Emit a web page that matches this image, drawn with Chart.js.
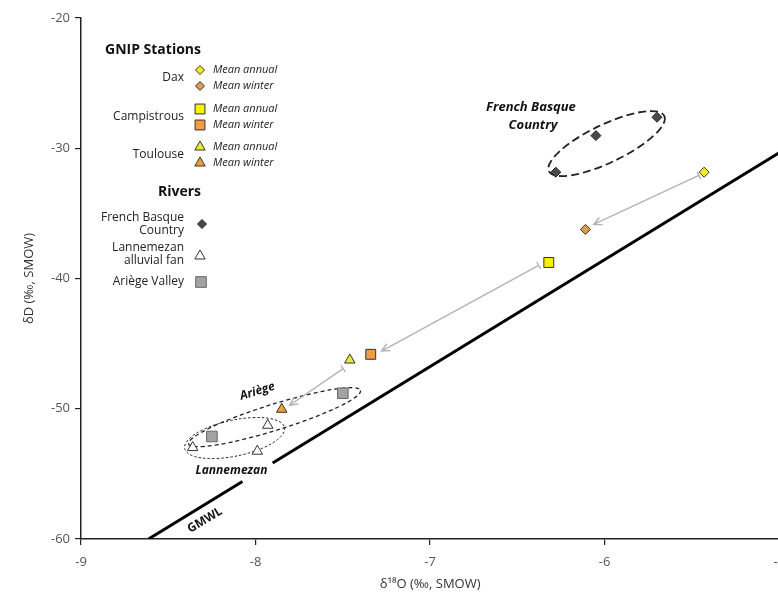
<!DOCTYPE html>
<html>
<head>
<meta charset="utf-8">
<script src="https://cdn.jsdelivr.net/npm/chart.js@4.4.0/dist/chart.umd.min.js"></script>
<style>
  html, body { margin: 0; padding: 0; background: #fff; overflow: hidden; }
  #wrap { position: relative; width: 794px; height: 597px; }
</style>
</head>
<body>
<div id="wrap"><canvas id="chart" width="794" height="597"></canvas></div>
<script>
// values (d18O, dD in permil SMOW)
const stations = ["Dax", "Campistrous", "Toulouse"];
const annualO = [-5.43, -6.32, -7.46];
const annualD = [-31.84, -38.77, -46.26];
const winterO = [-6.11, -7.34, -7.85];
const winterD = [-36.23, -45.82, -50.04];

const basqueO = [-6.28, -6.05, -5.70];
const basqueD = [-31.84, -29.03, -27.62];
const lannemezanO = [-7.93, -7.99, -8.36];
const lannemezanD = [-51.27, -53.26, -52.98];
const ariegeO = [-7.50, -8.25];
const ariegeD = [-48.81, -52.13];

// GMWL, with a break behind the "Lannemezan" label
const gmwlO = [-8.613, -8.075, -8.0, -7.902, -5.0];
const gmwlD = [-60, -55.59, null, -54.17, -30.35];

// arrows annual -> winter
const arrowFromO = [-5.46, -6.378, -7.498];
const arrowFromD = [-32.09, -39.0, -46.92];
const arrowToO = [-6.063, -7.278, -7.805];
const arrowToD = [-35.85, -45.57, -49.73];

// grouping ellipses (centres)
const groupNames = ["Basque", "Ariège", "Lannemezan"];
const groupO = [-5.989, -7.891, -8.12];
const groupD = [-29.64, -50.65, -52.25];

const xTicks = [-9, -8, -7, -6, -5];
const yTicks = [-60, -50, -40, -30, -20];

const FONT = "'Open Sans', 'Noto Sans', sans-serif";

function pts(xs, ys) {
  return xs.map((x, i) => ({ x: x, y: ys[i] }));
}

function marker(ctx, style, x, y, r, fill, stroke) {
  ctx.save();
  ctx.fillStyle = fill;
  ctx.strokeStyle = stroke;
  ctx.lineWidth = 1;
  ctx.beginPath();
  if (style === "rectRot") {
    ctx.moveTo(x, y - r); ctx.lineTo(x + r, y); ctx.lineTo(x, y + r); ctx.lineTo(x - r, y);
  } else if (style === "rect") {
    const s = r * Math.SQRT1_2;
    ctx.rect(x - s, y - s, 2 * s, 2 * s);
  } else {
    ctx.moveTo(x, y - r);
    ctx.lineTo(x + r * 0.866, y + r * 0.5);
    ctx.lineTo(x - r * 0.866, y + r * 0.5);
  }
  ctx.closePath();
  ctx.fill();
  ctx.stroke();
  ctx.restore();
}

const overlay = {
  id: "overlay",
  beforeDatasetsDraw(chart) {
    const ctx = chart.ctx, xs = chart.scales.x, ys = chart.scales.y;
    // ellipses
    const shape = [
      { a: 64, b: 19, rot: -25.6, w: 1.8, dash: [8, 4] },
      { a: 90, b: 13, rot: -17.3, w: 1.3, dash: [4, 3] },
      { a: 51, b: 18, rot: -12, w: 1, dash: [2.5, 2] }
    ];
    ctx.save();
    ctx.strokeStyle = "#222";
    groupNames.forEach((n, i) => {
      const cx = xs.getPixelForValue(groupO[i]);
      const cy = ys.getPixelForValue(groupD[i]);
      const s = shape[i];
      ctx.lineWidth = s.w;
      ctx.setLineDash(s.dash);
      ctx.beginPath();
      ctx.ellipse(cx, cy, s.a, s.b, s.rot * Math.PI / 180, 0, Math.PI * 2);
      ctx.stroke();
    });
    ctx.setLineDash([]);
    // arrows
    ctx.strokeStyle = "#b3b3b3";
    ctx.lineWidth = 1.4;
    arrowFromO.forEach((v, i) => {
      const x1 = xs.getPixelForValue(v), y1 = ys.getPixelForValue(arrowFromD[i]);
      const x2 = xs.getPixelForValue(arrowToO[i]), y2 = ys.getPixelForValue(arrowToD[i]);
      const ang = Math.atan2(y2 - y1, x2 - x1);
      ctx.beginPath();
      ctx.moveTo(x1, y1); ctx.lineTo(x2, y2);
      // tail bar
      const px = Math.cos(ang + Math.PI / 2) * 4, py = Math.sin(ang + Math.PI / 2) * 4;
      ctx.moveTo(x1 - px, y1 - py); ctx.lineTo(x1 + px, y1 + py);
      // head
      ctx.moveTo(x2 - Math.cos(ang - 0.45) * 9, y2 - Math.sin(ang - 0.45) * 9);
      ctx.lineTo(x2, y2);
      ctx.lineTo(x2 - Math.cos(ang + 0.45) * 9, y2 - Math.sin(ang + 0.45) * 9);
      ctx.stroke();
    });
    ctx.restore();
  },
  afterDatasetsDraw(chart) {
    const ctx = chart.ctx, xs = chart.scales.x, ys = chart.scales.y;
    ctx.save();
    ctx.fillStyle = "#111";
    ctx.textAlign = "center";
    ctx.textBaseline = "middle";
    ctx.font = "italic bold 13px " + FONT;
    const bx = xs.getPixelForValue(-6.422), by = ys.getPixelForValue(-26.88);
    ctx.fillText("French Basque", bx, by);
    ctx.fillText("Country", bx + 2, by + 18);

    ctx.font = "italic bold 12px " + FONT;
    ctx.fillText("Lannemezan", xs.getPixelForValue(-8.138), ys.getPixelForValue(-54.72));

    ctx.save();
    ctx.translate(xs.getPixelForValue(-7.989), ys.getPixelForValue(-48.66));
    ctx.rotate(-17 * Math.PI / 180);
    ctx.fillText("Ariège", 0, 0);
    ctx.restore();

    ctx.save();
    ctx.font = "bold 12px " + FONT;
    ctx.translate(xs.getPixelForValue(-8.29), ys.getPixelForValue(-58.55));
    ctx.rotate(-31 * Math.PI / 180);
    ctx.fillText("GMWL", 0, 0);
    ctx.restore();
    ctx.restore();
  },
  afterDraw(chart) {
    const ctx = chart.ctx;
    ctx.save();
    ctx.fillStyle = "#111";
    ctx.textBaseline = "middle";
    ctx.textAlign = "right";
    ctx.font = "bold 14px " + FONT;
    ctx.fillText("GNIP Stations", 201, 50);
    ctx.fillText("Rivers", 201, 192);

    const rowY = [70, 109, 147];
    const shapes = ["rectRot", "rect", "triangle"];
    const rads = [4.5, 7, 6];
    const annFill = ["#f4f01e", "#f7f200", "#e3ee3a"];
    const winFill = ["#e59a52", "#f29b45", "#f0a03c"];
    stations.forEach((s, i) => {
      ctx.textAlign = "right";
      ctx.font = "12px " + FONT;
      ctx.fillStyle = "#222";
      ctx.fillText(s, 184, rowY[i] + 8);
      marker(ctx, shapes[i], 200, rowY[i], rads[i], annFill[i], "#333");
      marker(ctx, shapes[i], 200, rowY[i] + 16, rads[i], winFill[i], "#333");
      ctx.textAlign = "left";
      ctx.font = "italic 11px " + FONT;
      ctx.fillStyle = "#222";
      ctx.fillText("Mean annual", 213, rowY[i]);
      ctx.fillText("Mean winter", 213, rowY[i] + 16);
    });

    ctx.textAlign = "right";
    ctx.font = "12px " + FONT;
    ctx.fillStyle = "#222";
    ctx.fillText("French Basque", 184, 218);
    ctx.fillText("Country", 184, 231);
    marker(ctx, "rectRot", 202, 224, 4.5, "#4a4a4a", "#222");
    ctx.fillStyle = "#222";
    ctx.fillText("Lannemezan", 184, 248);
    ctx.fillText("alluvial fan", 184, 261);
    marker(ctx, "triangle", 200, 256, 6, "#fff", "#333");
    ctx.fillStyle = "#222";
    ctx.fillText("Ariège Valley", 184, 282);
    marker(ctx, "rect", 201, 282, 7.5, "#a3a3a3", "#666");
    ctx.restore();
  }
};

const ctx = document.getElementById("chart").getContext("2d");
const myChart = new Chart(ctx, {
  type: "scatter",
  data: {
    datasets: [
      {
        label: "Mean annual",
        data: pts(annualO, annualD),
        pointStyle: ["rectRot", "rect", "triangle"],
        pointRadius: [5, 7, 6],
        backgroundColor: ["#f4f01e", "#f7f200", "#e3ee3a"],
        borderColor: "#333",
        borderWidth: 1
      },
      {
        label: "Mean winter",
        data: pts(winterO, winterD),
        pointStyle: ["rectRot", "rect", "triangle"],
        pointRadius: [5, 7, 6],
        backgroundColor: ["#e59a52", "#f29b45", "#f0a03c"],
        borderColor: "#333",
        borderWidth: 1
      },
      {
        label: "French Basque Country",
        data: pts(basqueO, basqueD),
        pointStyle: "rectRot",
        pointRadius: 5,
        backgroundColor: "#4a4a4a",
        borderColor: "#222",
        borderWidth: 1
      },
      {
        label: "Lannemezan alluvial fan",
        data: pts(lannemezanO, lannemezanD),
        pointStyle: "triangle",
        pointRadius: 6,
        backgroundColor: "#fff",
        borderColor: "#333",
        borderWidth: 1
      },
      {
        label: "Ariège Valley",
        data: pts(ariegeO, ariegeD),
        pointStyle: "rect",
        pointRadius: 7.5,
        backgroundColor: "#a3a3a3",
        borderColor: "#666",
        borderWidth: 1
      },
      {
        label: "GMWL",
        data: pts(gmwlO, gmwlD),
        showLine: true,
        spanGaps: false,
        pointRadius: 0,
        borderColor: "#000",
        borderWidth: 3,
        order: 10
      }
    ]
  },
  options: {
    responsive: false,
    animation: false,
    layout: { padding: { top: 18, left: 0, right: 0, bottom: 0 } },
    plugins: { legend: { display: false }, tooltip: { enabled: false } },
    scales: {
      x: {
        type: "linear",
        min: -9,
        max: -5,
        afterBuildTicks: (s) => { s.ticks = xTicks.map(v => ({ value: v })); },
        afterFit: (s) => { s.height = 58; },
        grid: { drawOnChartArea: false, drawTicks: true, tickLength: 6, color: "#222", lineWidth: 1.2 },
        border: { color: "#222", width: 1.5 },
        ticks: { color: "#555", padding: 9, font: { family: FONT, size: 13 } },
        title: { display: true, text: "δ¹⁸O (‰, SMOW)", color: "#333", padding: { top: 2, bottom: 5 }, font: { family: FONT, size: 13 } }
      },
      y: {
        type: "linear",
        min: -60,
        max: -20,
        afterBuildTicks: (s) => { s.ticks = yTicks.map(v => ({ value: v })); },
        afterFit: (s) => { s.width = 81; },
        grid: { drawOnChartArea: false, drawTicks: true, tickLength: 6, color: "#222", lineWidth: 1.2 },
        border: { color: "#222", width: 1.5 },
        ticks: { color: "#555", padding: 5, font: { family: FONT, size: 13 } },
        title: { display: true, text: "δD (‰, SMOW)", color: "#333", padding: { top: 21, bottom: 2 }, font: { family: FONT, size: 13 } }
      }
    }
  },
  plugins: [overlay]
});
</script>
</body>
</html>
